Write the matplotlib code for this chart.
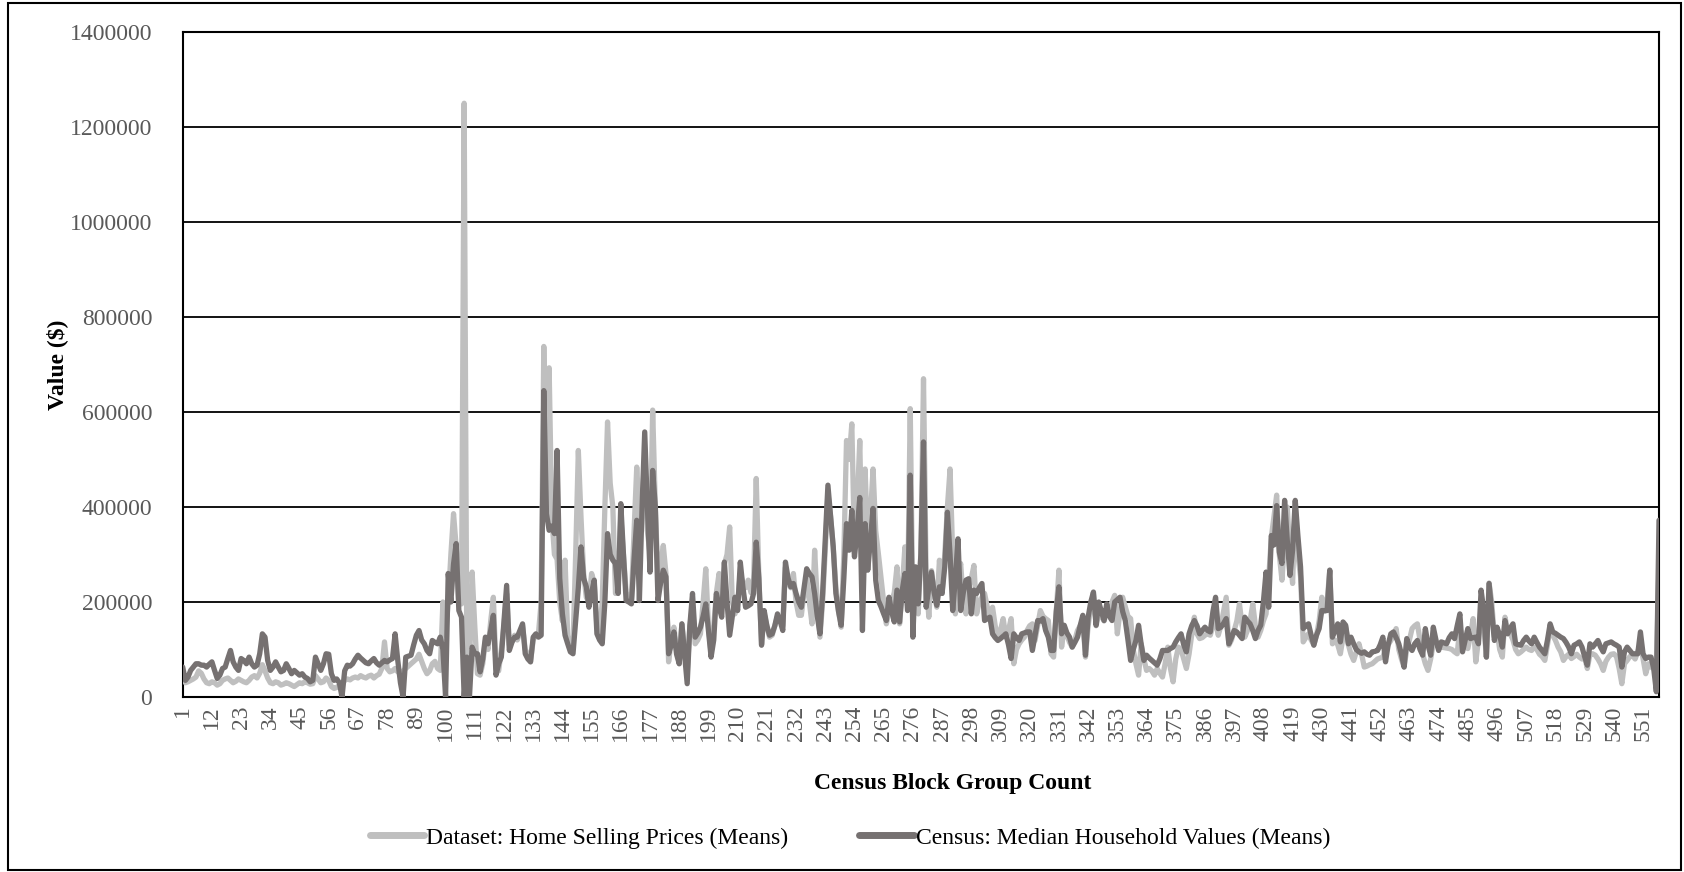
import numpy as np
import matplotlib
matplotlib.use("Agg")
import matplotlib.pyplot as plt
from matplotlib.patches import Rectangle

plt.rcParams['font.family'] = ['Liberation Serif', 'DejaVu Serif']

# Values in thousands of dollars, one per census block group (1..557)
home_price_k = [
    40, 30, 32, 35, 38, 42, 55, 50, 38, 30,
    28, 32, 30, 25, 28, 35, 38, 40, 35, 30,
    33, 38, 35, 32, 30, 35, 42, 45, 40, 50,
    68, 55, 40, 30, 28, 32, 30, 25, 27, 30,
    28, 25, 22, 26, 30, 28, 32, 30, 27, 28,
    45, 38, 30, 32, 40, 35, 22, 18, 20, 25,
    28, 35, 38, 36, 40, 42, 40, 45, 42, 40,
    44, 46, 40, 45, 48, 60, 116, 60, 53, 55,
    60, 53, 50, 55, 60, 65, 70, 75, 80, 90,
    75, 60, 49, 55, 70, 75, 60, 56, 200, 130,
    200, 300, 386, 316, 196, 196, 1250, 91, 60, 263,
    150, 49, 46, 70, 119, 100, 160, 210, 60, 55,
    100, 150, 218, 110, 120, 130, 120, 135, 150, 100,
    90, 74, 120, 130, 135, 200, 738, 400, 693, 380,
    300, 290, 200, 160, 288, 130, 100, 110, 300, 519,
    380, 260, 210, 200, 260, 240, 150, 130, 200, 400,
    579, 450, 400, 218, 230, 380, 300, 220, 210, 205,
    350, 484, 380, 420, 456, 350, 300, 604, 400, 250,
    280, 319, 260, 74, 120, 147, 100, 70, 154, 100,
    49, 150, 190, 112, 120, 133, 200, 270, 150, 91,
    150, 220, 260, 200, 280, 300, 358, 200, 175, 200,
    260, 240, 230, 246, 220, 240, 460, 250, 112, 175,
    150, 126, 130, 150, 170, 160, 150, 273, 240, 230,
    260, 200, 172, 172, 220, 253, 200, 154, 309, 200,
    126, 200, 310, 428, 380, 316, 230, 180, 147, 300,
    540, 500, 575, 316, 400, 540, 246, 480, 323, 380,
    480, 350, 302, 250, 200, 154, 180, 200, 220, 274,
    154, 230, 316, 200, 607, 170, 260, 175, 300, 670,
    250, 168, 266, 220, 189, 288, 218, 300, 400, 480,
    300, 175, 250, 281, 200, 175, 230, 250, 277, 175,
    200, 210, 218, 190, 170, 189, 150, 126, 140, 165,
    126, 140, 165, 70, 100, 112, 120, 126, 140, 150,
    154, 119, 150, 182, 170, 165, 161, 91, 84, 180,
    267, 105, 147, 130, 115, 105, 120, 140, 150, 161,
    84, 150, 190, 217, 150, 175, 170, 160, 180, 190,
    200, 214, 133, 180, 210, 190, 170, 165, 100, 70,
    46, 112, 80, 56, 60, 55, 46, 60, 50, 42,
    70, 105, 60, 32, 80, 105, 100, 80, 60, 90,
    130, 168, 133, 123, 125, 130, 133, 130, 150, 160,
    130, 150, 180, 210, 109, 120, 140, 160, 196, 150,
    126, 140, 160, 196, 150, 126, 140, 160, 175, 250,
    337, 380, 425, 300, 246, 330, 400, 300, 239, 403,
    300, 253, 116, 125, 133, 120, 110, 130, 160, 210,
    180, 200, 267, 112, 120, 110, 91, 126, 147, 110,
    90, 77, 95, 112, 90, 63, 65, 68, 70, 75,
    80, 82, 84, 100, 110, 119, 130, 144, 100, 80,
    63, 100, 120, 144, 150, 154, 120, 90, 70, 56,
    80, 112, 110, 105, 105, 104, 103, 102, 100, 95,
    91, 147, 120, 105, 102, 130, 165, 74, 120, 189,
    150, 84, 240, 200, 126, 140, 100, 84, 168, 140,
    133, 120, 100, 91, 95, 100, 105, 100, 98, 105,
    100, 90, 85, 77, 110, 147, 130, 119, 105, 95,
    77, 85, 90, 81, 85, 90, 84, 80, 84, 60,
    90, 91, 88, 80, 70, 56, 75, 84, 90, 91,
    85, 60, 28, 70, 77, 85, 88, 80, 95, 112,
    80, 49, 70, 63, 60, 55, 280,
]

census_value_k = [
    63, 35, 42, 56, 63, 70, 70, 67, 67, 63,
    69, 74, 56, 39, 46, 60, 63, 81, 98, 74,
    63, 56, 81, 77, 70, 84, 70, 63, 67, 91,
    133, 126, 77, 56, 63, 74, 63, 53, 56, 70,
    60, 49, 56, 51, 46, 49, 42, 39, 32, 35,
    84, 70, 56, 70, 91, 90, 49, 35, 38, 30,
    0, 55, 67, 65, 70, 80, 88, 82, 77, 72,
    70, 76, 81, 72, 67, 72, 77, 74, 78, 81,
    133, 77, 30, 0, 84, 86, 88, 110, 130, 140,
    120, 112, 98, 91, 119, 115, 112, 126, 100, 0,
    260, 200, 280, 323, 182, 168, 0, 84, 0, 105,
    91, 91, 53, 80, 126, 112, 140, 172, 46, 70,
    84, 160, 235, 98, 115, 126, 126, 140, 154, 91,
    80, 74, 126, 133, 126, 130, 645, 386, 351, 360,
    344, 519, 250, 175, 130, 112, 95, 91, 161, 230,
    316, 250, 232, 189, 220, 246, 133, 120, 112, 200,
    344, 300, 288, 281, 218, 407, 300, 203, 200, 196,
    290, 372, 203, 400, 558, 400, 263, 477, 400, 203,
    240, 267, 253, 91, 110, 137, 90, 70, 154, 90,
    28, 150, 218, 126, 135, 147, 170, 196, 140, 84,
    120, 218, 190, 168, 284, 200, 130, 170, 210, 182,
    284, 230, 189, 192, 196, 218, 326, 250, 109, 182,
    150, 130, 133, 150, 175, 160, 140, 284, 250, 232,
    239, 218, 200, 189, 230, 270, 260, 253, 218, 170,
    133, 218, 330, 446, 380, 316, 218, 180, 151, 250,
    365, 309, 393, 295, 350, 420, 140, 365, 267, 330,
    397, 246, 203, 190, 175, 161, 210, 180, 158, 225,
    158, 225, 260, 182, 467, 126, 274, 196, 300, 537,
    189, 230, 263, 220, 193, 232, 218, 274, 389, 300,
    182, 250, 333, 182, 220, 246, 249, 175, 225, 218,
    230, 239, 161, 165, 168, 133, 125, 119, 123, 128,
    133, 110, 81, 133, 125, 119, 133, 135, 137, 137,
    98, 130, 161, 160, 165, 140, 126, 98, 98, 180,
    232, 133, 151, 135, 126, 105, 115, 126, 150, 172,
    88, 168, 200, 221, 151, 200, 180, 161, 196, 170,
    161, 200, 205, 210, 180, 161, 120, 77, 100, 119,
    151, 110, 77, 88, 82, 77, 72, 67, 80, 98,
    98, 98, 102, 105, 116, 125, 133, 110, 95, 133,
    150, 161, 150, 133, 140, 147, 140, 137, 180, 210,
    144, 147, 155, 165, 112, 125, 140, 137, 130, 123,
    168, 160, 154, 140, 123, 140, 151, 200, 263, 189,
    340, 320, 403, 305, 281, 414, 330, 256, 309, 414,
    340, 274, 144, 150, 154, 130, 109, 130, 144, 182,
    182, 182, 267, 126, 140, 154, 116, 158, 151, 112,
    126, 112, 100, 95, 92, 95, 90, 88, 95, 96,
    98, 110, 126, 74, 110, 133, 137, 125, 112, 90,
    63, 123, 105, 98, 112, 119, 100, 88, 144, 110,
    88, 147, 120, 98, 116, 114, 112, 125, 133, 123,
    150, 175, 95, 120, 144, 123, 125, 126, 112, 225,
    182, 84, 239, 180, 119, 147, 130, 105, 161, 133,
    145, 154, 112, 110, 109, 119, 126, 118, 112, 126,
    115, 105, 98, 91, 120, 154, 137, 134, 130, 126,
    123, 115, 105, 91, 109, 112, 116, 105, 85, 67,
    112, 105, 112, 119, 105, 95, 112, 114, 116, 112,
    109, 105, 63, 95, 105, 98, 91, 91, 91, 137,
    91, 81, 84, 84, 60, 11, 372,
]

series_names = ["Dataset: Home Selling Prices (Means)",
                "Census: Median Household Values (Means)"]
y_ticks = [0, 200000, 400000, 600000, 800000, 1000000, 1200000, 1400000]
x_label_step = 11
x_title = "Census Block Group Count"
y_title = "Value ($)"

n = len(census_value_k)
cats = np.arange(1, n + 1)
home = np.array(home_price_k[:n], dtype=float) * 1000
census = np.array(census_value_k, dtype=float) * 1000

W, H = 1684, 872
fig = plt.figure(figsize=(W / 100, H / 100), dpi=100)
ax = fig.add_axes([182.7 / W, 1 - 697 / H, (1659 - 182.7) / W, (697 - 32) / H])

light = "#BFBFBF"
dark = "#767171"
ax.plot(cats[:len(home)], home, color=light, lw=3.8, solid_joinstyle='round',
        solid_capstyle='round', label=series_names[0], zorder=3)
ax.plot(cats, census, color=dark, lw=3.8, solid_joinstyle='round',
        solid_capstyle='round', label=series_names[1], zorder=4)

ax.set_xlim(1, n)
ax.set_ylim(0, 1400000)
ax.set_yticks(y_ticks)
ax.set_yticklabels([str(v) for v in y_ticks])
xt = np.arange(1, n + 1, x_label_step)
ax.set_xticks(xt)
ax.set_xticklabels([str(v) for v in xt], rotation=90)
ax.tick_params(axis='both', length=0, labelsize=17, colors="#595959")
ax.tick_params(axis='y', pad=22)
ax.tick_params(axis='x', pad=6)
ax.yaxis.grid(True, color='black', lw=1.3, zorder=1)
ax.set_axisbelow(True)
for s in ax.spines.values():
    s.set_color('black')
    s.set_linewidth(1.5)

fig.text(952.6 / W, 1 - 783 / H, x_title, ha='center', va='center',
         fontsize=17, fontweight='bold')
fig.text(57 / W, 1 - 365 / H, y_title, ha='center', va='center',
         rotation=90, fontsize=17, fontweight='bold')

leg = fig.legend(loc='center', bbox_to_anchor=(850 / W, 1 - 838 / H), ncol=2,
                 frameon=False, fontsize=17, handlelength=2.3,
                 handletextpad=0.1, columnspacing=3.0)
for line in leg.get_lines():
    line.set_linewidth(5)

fig.patches.append(Rectangle((8 / W, 2 / H), (1681 - 8) / W, (869 - 2) / H,
                             transform=fig.transFigure, fill=False,
                             edgecolor='black', lw=1.5))

fig.savefig("out.png", dpi=100)
